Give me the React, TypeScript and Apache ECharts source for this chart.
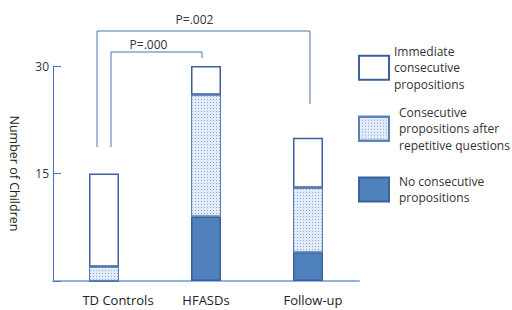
import React, { useEffect, useRef } from 'react';
import * as echarts from 'echarts';

const categories = ['TD Controls', 'HFASDs', 'Follow-up'];
const noConsecutive = [0, 9, 4];
const afterRepetitive = [2, 17, 9];
const immediate = [13, 4, 7];
const seriesNames = [
  'No consecutive\npropositions',
  'Consecutive\npropositions after\nrepetitive questions',
  'Immediate\nconsecutive\npropositions',
];
const yMax = 30;
const yInterval = 15;
const pLabels = ['P=.000', 'P=.002'];
const yAxisName = 'Number of Children';

const FONT = 'Open Sans';
const BORDER = '#3b609a';
const AXIS = '#4a72b0';
// label shifts (px) applied as left padding, to mimic the offsets in the original figure
const labelShift = [28, 0, 10];

export default function App() {
  const ref = useRef<HTMLDivElement>(null);
  useEffect(() => {
    if (!ref.current) return;
    const chart = echarts.init(ref.current, undefined, { renderer: 'svg' });
    const legendBase = {
      orient: 'vertical' as const,
      left: 358,
      padding: 0,
      itemWidth: 30,
      itemHeight: 24,
      icon: 'rect',
      selectedMode: false,
      textStyle: { fontFamily: FONT, fontSize: 12, lineHeight: 16.5, color: '#333' },
    };
    const barBase = {
      type: 'bar' as const,
      stack: 'total',
      barWidth: 30,
    };
    const rich: Record<string, any> = {};
    labelShift.forEach((s, i) => {
      rich['l' + i] = { padding: [0, 0, 0, s], fontSize: 13, color: '#222', fontFamily: FONT };
    });
    chart.setOption({
      animation: false,
      grid: { left: 46, top: 66, bottom: 29, right: 153, containLabel: false },
      xAxis: {
        type: 'category',
        data: categories,
        axisLine: { lineStyle: { color: '#8db3e2', width: 2 } },
        axisTick: { show: false },
        axisLabel: {
          interval: 0,
          hideOverlap: false,
          margin: 12,
          fontSize: 13,
          color: '#222',
          fontFamily: FONT,
          formatter: (v: string, i: number) => `{l${i}|${v}}`,
          rich,
        },
      },
      yAxis: {
        type: 'value',
        min: 0,
        max: yMax,
        interval: yInterval,
        name: yAxisName,
        nameLocation: 'middle',
        nameRotate: -90,
        nameGap: 32,
        nameTextStyle: { fontSize: 12.5, color: '#222', fontFamily: FONT },
        axisLine: { show: true, lineStyle: { color: AXIS, width: 1 } },
        axisTick: { show: true, inside: true, length: 8, lineStyle: { color: AXIS } },
        splitLine: { show: false },
        axisLabel: {
          margin: 4,
          fontSize: 12,
          color: '#333',
          fontFamily: FONT,
          formatter: (v: number) => (v === 0 ? '' : String(v)),
        },
      },
      legend: [
        { ...legendBase, data: [seriesNames[2]], top: 43 },
        { ...legendBase, data: [seriesNames[1]], top: 104, textStyle: { ...legendBase.textStyle, padding: [0, 0, 0, 5] } },
        { ...legendBase, data: [seriesNames[0]], top: 173, textStyle: { ...legendBase.textStyle, padding: [0, 0, 0, 5] } },
      ],
      series: [
        {
          ...barBase,
          name: seriesNames[0],
          data: noConsecutive,
          itemStyle: { color: '#4f81bd', borderColor: BORDER, borderWidth: 1.5 },
        },
        {
          ...barBase,
          name: seriesNames[1],
          data: afterRepetitive,
          itemStyle: {
            color: '#e3ebf6',
            borderColor: '#5a7fb8',
            borderWidth: 1,
            decal: {
              symbol: 'rect',
              symbolSize: 1,
              color: '#86a6d8',
              dashArrayX: [1, 2],
              dashArrayY: [1, 2],
              rotation: 0,
            },
          },
        },
        {
          ...barBase,
          name: seriesNames[2],
          data: immediate,
          itemStyle: { color: '#ffffff', borderColor: BORDER, borderWidth: 1.5 },
        },
      ],
    });

    const px = (i: number) => chart.convertToPixel({ xAxisIndex: 0 }, i) as number;
    const td = px(0);
    const hf = px(1);
    const fu = px(2);
    const line = { stroke: AXIS, lineWidth: 1, fill: 'none' };
    const txt = { fontFamily: FONT, fontSize: 12, fill: '#333', align: 'center', verticalAlign: 'middle' };
    chart.setOption({
      graphic: [
        {
          type: 'polyline',
          shape: { points: [[td - 7, 147], [td - 7, 31], [fu + 2, 31], [fu + 2, 104]] },
          style: line,
        },
        {
          type: 'polyline',
          shape: { points: [[td + 7, 147], [td + 7, 52], [hf - 4, 52], [hf - 4, 58]] },
          style: line,
        },
        { type: 'text', x: (td - 7 + fu + 2) / 2 - 9, y: 19, style: { ...txt, text: pLabels[1] } },
        { type: 'text', x: (td + 7 + hf - 4) / 2 - 8, y: 44, style: { ...txt, text: pLabels[0] } },
      ],
    });
    return () => chart.dispose();
  }, []);
  return (
    <div
      ref={ref}
      style={{ position: 'fixed', left: 0, top: 0, width: 512, height: 310, background: '#fff' }}
    />
  );
}
